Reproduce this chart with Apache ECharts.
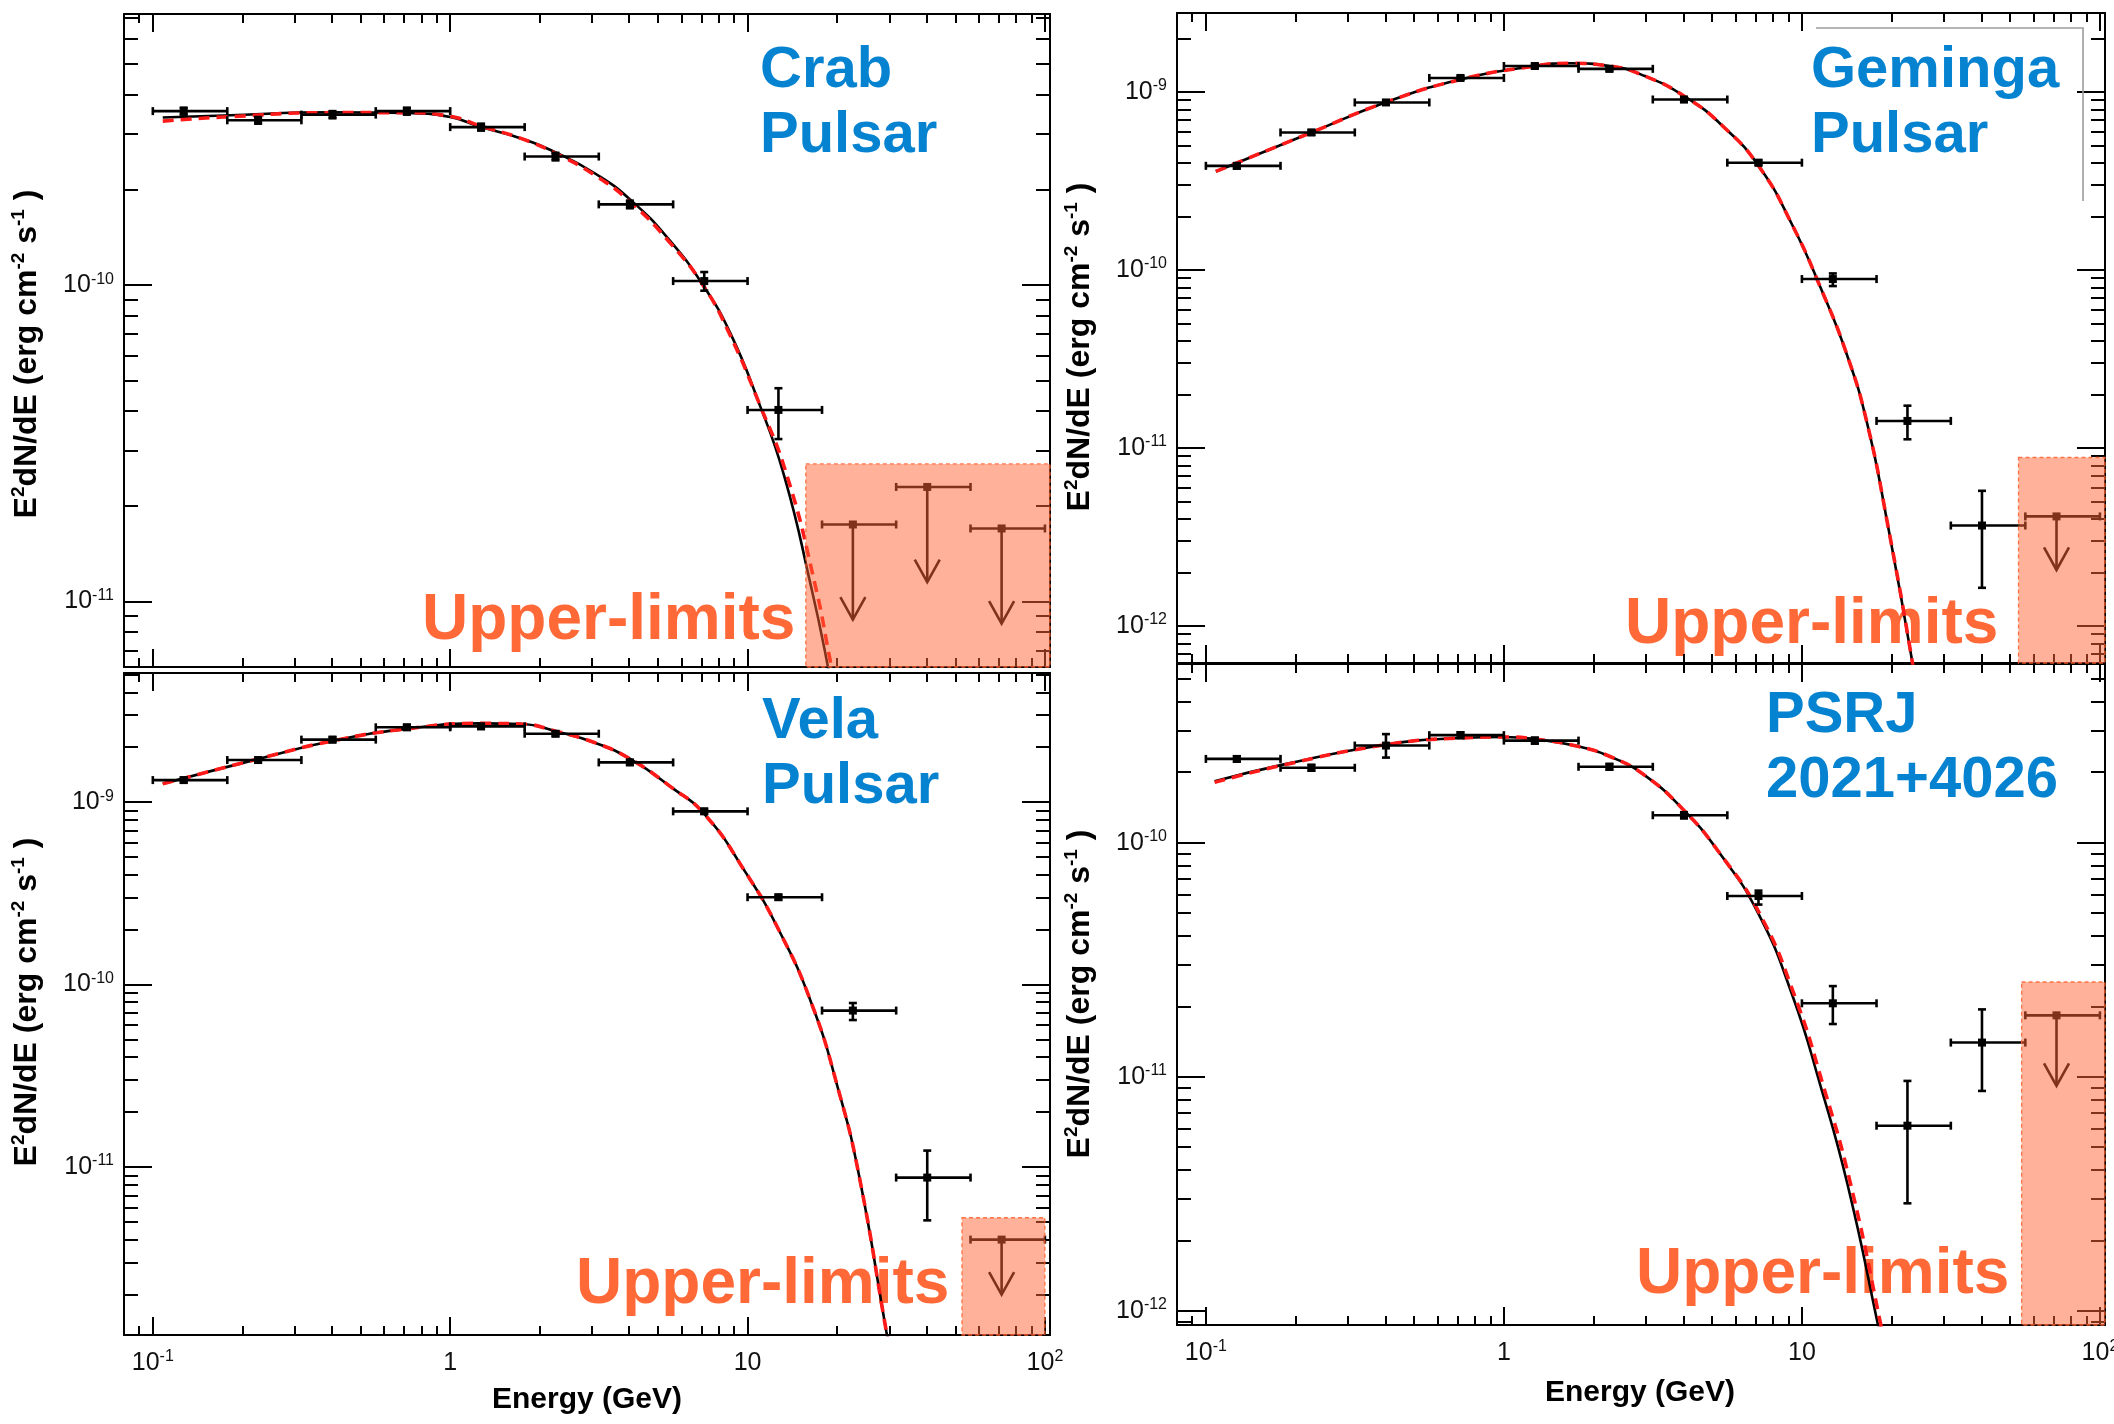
<!DOCTYPE html>
<html>
<head>
<meta charset="utf-8">
<script src="https://cdn.jsdelivr.net/npm/echarts@6/dist/echarts.min.js"></script>
<style>
  html, body { margin: 0; padding: 0; background: #ffffff; }
  #chart { width: 2114px; height: 1424px; }
</style>
</head>
<body>
<div id="chart"></div>
<script>
// ---------- shared energy binning (GeV) ----------
const energy  = [0.127, 0.226, 0.402, 0.715, 1.27, 2.26, 4.02, 7.15, 12.7, 22.6, 40.2, 71.5];
const binLow  = [0.1, 0.178, 0.316, 0.562, 1, 1.78, 3.16, 5.62, 10, 17.8, 31.6, 56.2];
const binHigh = [0.178, 0.316, 0.562, 1, 1.78, 3.16, 5.62, 10, 17.8, 31.6, 56.2, 100];

// axis ranges and tick labels
const xRange = [0.08, 104];
const xMajor = [0.1, 1, 10, 100];

// ---------- Crab pulsar ----------
const crabYRange = [6.2e-12, 7.2e-10];
const crabYMajor = [1e-11, 1e-10];
const crabFlux     = [3.55e-10, 3.32e-10, 3.46e-10, 3.55e-10, 3.16e-10, 2.55e-10, 1.80e-10, 1.03e-10, 4.03e-11];
const crabFluxLow  = [3.46e-10, 3.24e-10, 3.37e-10, 3.46e-10, 3.08e-10, 2.48e-10, 1.75e-10, 9.6e-11, 3.26e-11];
const crabFluxHigh = [3.64e-10, 3.40e-10, 3.55e-10, 3.64e-10, 3.24e-10, 2.62e-10, 1.85e-10, 1.10e-10, 4.72e-11];
const crabUpper    = [1.75e-11, 2.30e-11, 1.70e-11];
const crabFitE     = [0.108, 0.173, 0.40, 0.713, 1.0, 1.27, 1.73, 2.28, 3.08, 4.04, 5.49, 7.13, 8.78, 10.8, 13.3, 16.4, 18.4, 19.5];
const crabFitSolid = [3.39e-10, 3.44e-10, 3.52e-10, 3.50e-10, 3.40e-10, 3.16e-10, 2.91e-10, 2.62e-10, 2.25e-10, 1.86e-10, 1.38e-10, 9.9e-11, 7.0e-11, 4.36e-11, 2.48e-11, 1.10e-11, 6.6e-12, 4.8e-12];
const crabAltE     = [0.108, 0.173, 0.40, 0.713, 1.0, 1.27, 1.73, 2.28, 3.08, 4.04, 5.49, 7.13, 8.7, 10.8, 13.6, 16.9, 18.9, 20.0];
const crabAltFlux  = [3.30e-10, 3.40e-10, 3.51e-10, 3.51e-10, 3.42e-10, 3.18e-10, 2.91e-10, 2.60e-10, 2.22e-10, 1.83e-10, 1.36e-10, 9.9e-11, 7.0e-11, 4.36e-11, 2.48e-11, 1.12e-11, 6.6e-12, 5.0e-12];
const crabShade    = [15.7, 104, 2.72e-11];

// ---------- Geminga pulsar ----------
const gemYRange = [6.2e-13, 2.78e-9];
const gemYMajor = [1e-12, 1e-11, 1e-10, 1e-9];
const gemFlux     = [3.85e-10, 5.93e-10, 8.74e-10, 1.20e-9, 1.40e-9, 1.35e-9, 9.08e-10, 4.01e-10, 8.9e-11, 1.42e-11, 3.67e-12];
const gemFluxLow  = [3.72e-10, 5.75e-10, 8.50e-10, 1.17e-9, 1.36e-9, 1.31e-9, 8.80e-10, 3.88e-10, 8.13e-11, 1.12e-11, 1.64e-12];
const gemFluxHigh = [3.98e-10, 6.11e-10, 8.98e-10, 1.23e-9, 1.44e-9, 1.39e-9, 9.36e-10, 4.14e-10, 9.57e-11, 1.73e-11, 5.75e-12];
const gemUpper    = [4.13e-12];
const gemFitE     = [0.108, 0.226, 0.40, 0.715, 1.27, 1.67, 2.26, 2.97, 4.04, 5.42, 7.2, 9.3, 11.5, 14.2, 16.6, 19.3, 23.5, 25.0];
const gemFitFlux  = [3.58e-10, 5.93e-10, 8.74e-10, 1.175e-9, 1.40e-9, 1.45e-9, 1.40e-9, 1.23e-9, 9.45e-10, 6.45e-10, 3.79e-10, 1.78e-10, 8.1e-11, 3.3e-11, 1.35e-11, 3.9e-12, 6.2e-13, 3.0e-13];
const gemShade    = [53.3, 104, 8.85e-12];

// ---------- Vela pulsar ----------
const velaYRange = [1.2e-12, 5.1e-9];
const velaYMajor = [1e-11, 1e-10, 1e-9];
const velaFlux     = [1.32e-9, 1.70e-9, 2.20e-9, 2.57e-9, 2.60e-9, 2.37e-9, 1.65e-9, 8.9e-10, 3.01e-10, 7.2e-11, 8.75e-12];
const velaFluxLow  = [1.28e-9, 1.65e-9, 2.13e-9, 2.49e-9, 2.52e-9, 2.30e-9, 1.60e-9, 8.63e-10, 2.92e-10, 6.39e-11, 5.1e-12];
const velaFluxHigh = [1.36e-9, 1.75e-9, 2.27e-9, 2.65e-9, 2.68e-9, 2.44e-9, 1.70e-9, 9.17e-10, 3.10e-10, 7.92e-11, 1.23e-11];
const velaUpper    = [4.0e-12];
const velaFitE     = [0.108, 0.225, 0.40, 0.713, 1.27, 1.73, 2.28, 3.08, 4.04, 5.49, 7.2, 9.8, 12.6, 16.4, 20.2, 23.7, 29.3, 31.0];
const velaFitFlux  = [1.26e-9, 1.72e-9, 2.16e-9, 2.52e-9, 2.70e-9, 2.68e-9, 2.44e-9, 2.11e-9, 1.72e-9, 1.22e-9, 8.5e-10, 4.17e-10, 2.06e-10, 7.9e-11, 2.65e-11, 9.0e-12, 1.25e-12, 7.5e-13];
const velaShade    = [52.6, 100, 5.27e-12];

// ---------- PSR J2021+4026 ----------
const psrYRange = [8.7e-13, 5.8e-10];
const psrYMajor = [1e-12, 1e-11, 1e-10];
const psrFlux     = [2.28e-10, 2.09e-10, 2.60e-10, 2.88e-10, 2.73e-10, 2.11e-10, 1.31e-10, 5.92e-11, 2.06e-11, 6.18e-12, 1.40e-11];
const psrFluxLow  = [2.22e-10, 2.03e-10, 2.31e-10, 2.80e-10, 2.65e-10, 2.05e-10, 1.27e-10, 5.44e-11, 1.68e-11, 2.88e-12, 8.7e-12];
const psrFluxHigh = [2.34e-10, 2.15e-10, 2.91e-10, 2.96e-10, 2.81e-10, 2.17e-10, 1.35e-10, 6.24e-11, 2.44e-11, 9.6e-12, 1.94e-11];
const psrUpper    = [1.83e-11];
const psrFitE     = [0.107, 0.18, 0.40, 0.714, 1.0, 1.27, 1.77, 2.26, 2.97, 4.03, 5.27, 7.13, 9.3, 11.5, 14.2, 17.9, 19.0];
const psrFitSolid = [1.83e-10, 2.15e-10, 2.62e-10, 2.80e-10, 2.83e-10, 2.77e-10, 2.58e-10, 2.34e-10, 1.94e-10, 1.37e-10, 9.1e-11, 5.0e-11, 2.22e-11, 9.3e-12, 3.5e-12, 9.0e-13, 6.0e-13];
const psrAltE     = [0.107, 0.18, 0.40, 0.714, 1.0, 1.27, 1.77, 2.26, 2.97, 4.03, 5.27, 7.2, 9.45, 11.75, 14.55, 18.3, 19.4];
const psrAltFlux  = [1.81e-10, 2.14e-10, 2.62e-10, 2.80e-10, 2.83e-10, 2.77e-10, 2.58e-10, 2.34e-10, 1.94e-10, 1.37e-10, 9.1e-11, 5.0e-11, 2.22e-11, 9.3e-12, 3.5e-12, 9.0e-13, 6.0e-13];
const psrShade    = [54.6, 104, 2.54e-11];

// ---------- styling ----------
const FONT = '"Liberation Sans", Arial, Helvetica, sans-serif';
const BLUE = '#0683D0';
const ORANGE = '#FF6937';

const panels = [
  { grid: { left: 124, top: 14, width: 926, height: 653 }, yRange: crabYRange, yMajor: crabYMajor, xLabels: false,
    flux: crabFlux, lo: crabFluxLow, hi: crabFluxHigh, upper: crabUpper,
    solid: [crabFitE, crabFitSolid], dashed: [crabAltE, crabAltFlux], shade: crabShade },
  { grid: { left: 1177, top: 13, width: 928, height: 650 }, yRange: gemYRange, yMajor: gemYMajor, xLabels: false,
    flux: gemFlux, lo: gemFluxLow, hi: gemFluxHigh, upper: gemUpper,
    solid: [gemFitE, gemFitFlux], dashed: [gemFitE, gemFitFlux], shade: gemShade },
  { grid: { left: 124, top: 673, width: 926, height: 662 }, yRange: velaYRange, yMajor: velaYMajor, xLabels: true,
    flux: velaFlux, lo: velaFluxLow, hi: velaFluxHigh, upper: velaUpper,
    solid: [velaFitE, velaFitFlux], dashed: [velaFitE, velaFitFlux], shade: velaShade },
  { grid: { left: 1177, top: 664, width: 928, height: 661 }, yRange: psrYRange, yMajor: psrYMajor, xLabels: true,
    flux: psrFlux, lo: psrFluxLow, hi: psrFluxHigh, upper: psrUpper,
    solid: [psrFitE, psrFitSolid], dashed: [psrAltE, psrAltFlux], shade: psrShade }
];

// minor log ticks (2..9 within each decade)
function minorTicks(d0, d1) {
  const out = [];
  for (let d = d0; d <= d1; d++) {
    for (let m = 2; m <= 9; m++) out.push(m * Math.pow(10, d));
  }
  return out;
}
const xMinor = minorTicks(-2, 2);
const yMinor = minorTicks(-14, -8);

function powLabel(v) {
  const e = Math.round(Math.log10(v));
  if (e === 0) return '{b|1}';
  if (e === 1) return '{b|10}';
  return '{b|10}{s|' + e + '}';
}
const labelRich = {
  b: { fontFamily: FONT, fontSize: 25, lineHeight: 28, color: '#111' },
  s: { fontFamily: FONT, fontSize: 16, lineHeight: 7, verticalAlign: 'top', color: '#111' }
};

function makeAxis(gi, range, position, ticks, len, withLine, labels, margin) {
  return {
    gridIndex: gi, type: 'log', logBase: 10, min: range[0], max: range[1], position: position,
    axisLine: { show: withLine, onZero: false, lineStyle: { color: '#000', width: 2 } },
    axisTick: { show: true, inside: true, length: len, customValues: ticks, lineStyle: { color: '#000', width: 2 } },
    axisLabel: labels ? { show: true, customValues: labels, formatter: powLabel, rich: labelRich, margin: margin } : { show: false },
    splitLine: { show: false }, minorTick: { show: false }, minorSplitLine: { show: false },
    axisPointer: { show: false }
  };
}

const grids = [], xAxes = [], yAxes = [], series = [];

function drawPoint(params, api) {
  const e = api.value(0), f = api.value(1);
  const c = api.coord([e, f]);
  const xl = api.coord([api.value(2), f])[0];
  const xr = api.coord([api.value(3), f])[0];
  const yl = api.coord([e, api.value(4)])[1];
  const yh = api.coord([e, api.value(5)])[1];
  const st = { stroke: '#000', lineWidth: 2.6 };
  const cap = 4;
  const ln = (x1, y1, x2, y2) => ({ type: 'line', shape: { x1, y1, x2, y2 }, style: st });
  return { type: 'group', children: [
    ln(xl, c[1], xr, c[1]), ln(xl, c[1] - cap, xl, c[1] + cap), ln(xr, c[1] - cap, xr, c[1] + cap),
    ln(c[0], yl, c[0], yh), ln(c[0] - cap, yl, c[0] + cap, yl), ln(c[0] - cap, yh, c[0] + cap, yh),
    { type: 'rect', shape: { x: c[0] - 4, y: c[1] - 4, width: 8, height: 8 }, style: { fill: '#000' } }
  ] };
}

function drawLimit(params, api) {
  const e = api.value(0), f = api.value(1);
  const c = api.coord([e, f]);
  const xl = api.coord([api.value(2), f])[0];
  const xr = api.coord([api.value(3), f])[0];
  // arrow drops by a factor of two below the limit
  const tip = api.coord([e, f / 2])[1];
  const st = { stroke: '#000', lineWidth: 2.6 };
  const cap = 4;
  const ln = (x1, y1, x2, y2) => ({ type: 'line', shape: { x1, y1, x2, y2 }, style: st });
  return { type: 'group', children: [
    ln(xl, c[1], xr, c[1]), ln(xl, c[1] - cap, xl, c[1] + cap), ln(xr, c[1] - cap, xr, c[1] + cap),
    ln(c[0], c[1], c[0], tip),
    { type: 'polyline', shape: { points: [[c[0] - 12.5, tip - 22.5], [c[0], tip], [c[0] + 12.5, tip - 22.5]] },
      style: { stroke: '#000', lineWidth: 2.6, fill: null } },
    { type: 'rect', shape: { x: c[0] - 4, y: c[1] - 4, width: 8, height: 8 }, style: { fill: '#000' } }
  ] };
}

function drawShade(params, api) {
  const p0 = api.coord([api.value(0), api.value(2)]);
  const p1 = api.coord([api.value(1), api.value(3)]);
  return { type: 'rect',
    shape: { x: p0[0], y: p0[1], width: p1[0] - p0[0], height: p1[1] - p0[1] },
    style: { fill: 'rgba(255,102,51,0.5)', stroke: 'rgba(255,96,48,0.85)', lineWidth: 1.3, lineDash: [4, 3] } };
}

panels.forEach((p, gi) => {
  grids.push(Object.assign({ outerBoundsMode: 'none', containLabel: false }, p.grid));
  const xi = xAxes.length, yi = yAxes.length;
  xAxes.push(makeAxis(gi, xRange, 'bottom', xMajor, 18, true, p.xLabels ? xMajor : null, 14));
  xAxes.push(makeAxis(gi, xRange, 'bottom', xMinor, 9, false, null));
  xAxes.push(makeAxis(gi, xRange, 'top', xMajor, 18, true, null));
  xAxes.push(makeAxis(gi, xRange, 'top', xMinor, 9, false, null));
  yAxes.push(makeAxis(gi, p.yRange, 'left', p.yMajor, 28, true, p.yMajor, 10));
  yAxes.push(makeAxis(gi, p.yRange, 'left', yMinor, 14, false, null));
  yAxes.push(makeAxis(gi, p.yRange, 'right', p.yMajor, 28, true, null));
  yAxes.push(makeAxis(gi, p.yRange, 'right', yMinor, 14, false, null));

  const n = p.flux.length;
  series.push({
    type: 'line', xAxisIndex: xi, yAxisIndex: yi, z: 3, silent: true, clip: true,
    smooth: 0.5, showSymbol: false, symbol: 'none',
    lineStyle: { color: '#000', width: 2.6 },
    data: p.solid[0].map((e, i) => [e, p.solid[1][i]])
  });
  series.push({
    type: 'line', xAxisIndex: xi, yAxisIndex: yi, z: 4, silent: true, clip: true,
    smooth: 0.5, showSymbol: false, symbol: 'none',
    lineStyle: { color: '#FF1A1A', width: 3.6, type: [11, 7] },
    data: p.dashed[0].map((e, i) => [e, p.dashed[1][i]])
  });
  series.push({
    type: 'custom', xAxisIndex: xi, yAxisIndex: yi, z: 5, silent: true,
    renderItem: drawPoint, encode: { x: 0, y: 1 },
    data: p.flux.map((f, i) => [energy[i], f, binLow[i], binHigh[i], p.lo[i], p.hi[i]])
  });
  series.push({
    type: 'custom', xAxisIndex: xi, yAxisIndex: yi, z: 5, silent: true,
    renderItem: drawLimit, encode: { x: 0, y: 1 },
    data: p.upper.map((f, j) => [energy[n + j], f, binLow[n + j], binHigh[n + j]])
  });
  series.push({
    type: 'custom', xAxisIndex: xi, yAxisIndex: yi, z: 8, silent: true,
    renderItem: drawShade, encode: { x: [0, 1], y: [2, 3] },
    data: [[p.shade[0], p.shade[1], p.shade[2], p.yRange[0]]]
  });
});

// ---------- annotations ----------
function label(text, x, y, size, color, lineHeight) {
  return { type: 'text', x: x, y: y, z: 0, silent: true,
    style: { text: text, fill: color, fontFamily: FONT, fontWeight: 'bold', fontSize: size,
             lineHeight: lineHeight, align: 'left', verticalAlign: 'top',
             textAlign: 'left', textVerticalAlign: 'top' } };
}
const titleRich = { s: { fontFamily: FONT, fontWeight: 'bold', fontSize: 19, lineHeight: 15, verticalAlign: 'top', fill: '#000', color: '#000' } };
function yTitle(x, y) {
  return { type: 'text', x: x, y: y, rotation: Math.PI / 2, z: 0, silent: true,
    style: { text: 'E{s|2}dN/dE (erg cm{s|-2} s{s|-1} )', fill: '#000', fontFamily: FONT, fontWeight: 'bold',
             fontSize: 32, lineHeight: 36, align: 'center', verticalAlign: 'middle',
             textAlign: 'center', textVerticalAlign: 'middle', rich: titleRich } };
}
function xTitle(x, y) {
  return { type: 'text', x: x, y: y, z: 0, silent: true,
    style: { text: 'Energy (GeV)', fill: '#000', fontFamily: FONT, fontWeight: 'bold', fontSize: 30,
             align: 'center', verticalAlign: 'middle', textAlign: 'center', textVerticalAlign: 'middle' } };
}

const graphics = [
  label('Crab\nPulsar', 760, 38.4, 58, BLUE, 65),
  label('Geminga\nPulsar', 1811, 38.4, 58, BLUE, 65),
  label('Vela\nPulsar', 762, 689.1, 58, BLUE, 65),
  label('PSRJ\n2021+4026', 1766, 683.8, 58, BLUE, 65),
  label('Upper-limits', 422, 586.5, 64, ORANGE, 70),
  label('Upper-limits', 1625, 589.9, 64, ORANGE, 70),
  label('Upper-limits', 576, 1250.5, 64, ORANGE, 70),
  label('Upper-limits', 1636, 1240.2, 64, ORANGE, 70),
  yTitle(27, 354), yTitle(27, 1002), yTitle(1080, 347), yTitle(1080, 994),
  xTitle(587, 1400), xTitle(1640, 1392.6),
  { type: 'polyline', z: 1, silent: true,
    shape: { points: [[1816, 28], [2083, 28], [2083, 201]] },
    style: { stroke: '#9c9c9c', lineWidth: 1.6, fill: null } }
];

const chart = echarts.init(document.getElementById('chart'), null, { renderer: 'canvas', width: 2114, height: 1424 });
chart.setOption({
  backgroundColor: '#ffffff',
  animation: false,
  grid: grids,
  xAxis: xAxes,
  yAxis: yAxes,
  series: series,
  graphic: { elements: graphics }
});
</script>
</body>
</html>
